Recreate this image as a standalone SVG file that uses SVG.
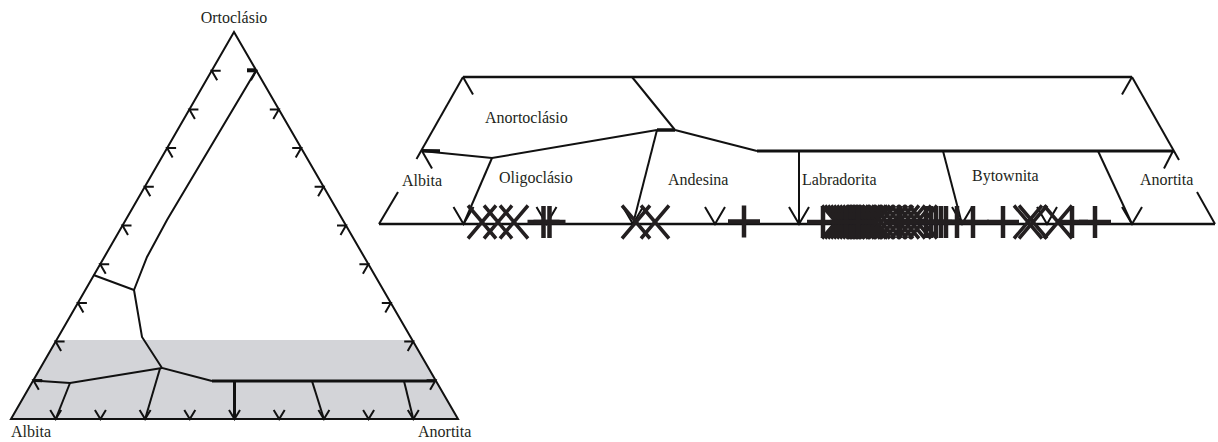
<svg xmlns="http://www.w3.org/2000/svg" width="1218" height="442" viewBox="0 0 1218 442">
<style>
.ln{fill:none;stroke:#111;stroke-width:2;stroke-linecap:butt;stroke-linejoin:miter}
.bd{fill:none;stroke:#111;stroke-width:3}
.hd{fill:none;stroke:#111;stroke-width:2}
.lbl{font-family:"Liberation Serif","Times New Roman",serif;font-size:16px;fill:#231f20}
.mx{fill:none;stroke:#231f20;stroke-width:3.5}
.mp{fill:none;stroke:#231f20;stroke-width:4.5}
</style>
<defs>
<path id="tl" class="hd" d="M9,0 L0,0 L5.5,9.5"/>
<path id="tr" class="hd" d="M-9,0 L0,0 L-5.5,9.5"/>
<path id="vs" class="hd" d="M-5.5,-9 L0,0 L5.5,-9"/>
<path id="vb" class="hd" d="M-10,-17 L0,0 L10,-17"/>
<path id="mX" class="mx" d="M-14,-16.5 L14,16.5 M-14,16.5 L14,-16.5"/>
<path id="mP" class="mp" d="M-16,0 H16 M0,-16 V16"/>
</defs>

<g id="ternary">
<polygon points="56.5,340 412.3,340 458,419 11,419" fill="#d3d4d8"/>
<polygon class="ln" points="11,419 234,32 458,419"/>
</g>

<g id="ternary-ticks">
<use href="#tl" x="33.3" y="380.3"/>
<use href="#tl" x="55.6" y="341.6"/>
<use href="#tl" x="77.9" y="302.9"/>
<use href="#tl" x="100.2" y="264.2"/>
<use href="#tl" x="122.5" y="225.5"/>
<use href="#tl" x="144.8" y="186.8"/>
<use href="#tl" x="167.1" y="148.1"/>
<use href="#tl" x="189.4" y="109.4"/>
<use href="#tl" x="211.7" y="70.7"/>
<use href="#tr" x="256.4" y="70.7"/>
<use href="#tr" x="278.8" y="109.4"/>
<use href="#tr" x="301.2" y="148.1"/>
<use href="#tr" x="323.6" y="186.8"/>
<use href="#tr" x="346" y="225.5"/>
<use href="#tr" x="368.4" y="264.2"/>
<use href="#tr" x="390.8" y="302.9"/>
<use href="#tr" x="413.2" y="341.6"/>
<use href="#tr" x="435.6" y="380.3"/>
<use href="#vs" x="55.7" y="419"/>
<use href="#vs" x="100.4" y="419"/>
<use href="#vs" x="145.1" y="419"/>
<use href="#vs" x="189.8" y="419"/>
<use href="#vs" x="234.5" y="419"/>
<use href="#vs" x="279.2" y="419"/>
<use href="#vs" x="323.9" y="419"/>
<use href="#vs" x="368.6" y="419"/>
<use href="#vs" x="413.3" y="419"/>
</g>

<g id="ternary-connectors">
<polyline class="ln" points="256,70.5 167,220 147,257 134,290 142,337 162,368 212,381"/>
<line class="bd" x1="212" y1="381" x2="435" y2="381"/>
<line class="bd" x1="247" y1="70.3" x2="256" y2="70.3" style="stroke-width:4"/>
<line class="ln" x1="134" y1="290" x2="93.5" y2="275"/>
<polyline class="ln" points="162,368 70,383 33.3,380.5"/>
<line class="bd" x1="33.3" y1="380.5" x2="42" y2="380.8"/>
<line class="ln" x1="70" y1="383" x2="55.7" y2="419"/>
<line class="ln" x1="160" y1="368.5" x2="145.1" y2="419"/>
<line class="bd" x1="234.5" y1="381" x2="234.5" y2="419"/>
<line class="ln" x1="312" y1="381" x2="323.9" y2="419"/>
<line class="ln" x1="404" y1="381" x2="413.3" y2="419"/>
</g>

<g id="ternary-labels">
<text class="lbl" x="234" y="23" text-anchor="middle">Ortoclásio</text>
<text class="lbl" x="11" y="437">Albita</text>
<text class="lbl" x="418" y="437">Anortita</text>
</g>

<g id="plag-frame">
<line class="bd" x1="463" y1="77" x2="1132" y2="77" style="stroke-width:2.5"/>
<line class="bd" x1="379" y1="224" x2="1215" y2="224" style="stroke-width:2.5"/>
<line class="ln" x1="463" y1="77" x2="416.5" y2="159"/>
<line class="ln" x1="398" y1="192" x2="379" y2="224"/>
<line class="ln" x1="463" y1="77" x2="473" y2="94.5"/>
<line class="ln" x1="1132" y1="77" x2="1179" y2="160"/>
<line class="ln" x1="1197" y1="192" x2="1215" y2="224"/>
<line class="ln" x1="1132" y1="77" x2="1122" y2="94.5"/>
</g>

<g id="plag-connectors">
<polyline class="ln" points="422,151 492,158 657,130"/>
<line class="bd" x1="422" y1="150.8" x2="440" y2="151" style="stroke-width:3.5"/>
<line class="ln" x1="422" y1="151" x2="432" y2="168.5"/>
<line class="bd" x1="657" y1="130" x2="675" y2="130" style="stroke-width:3.5"/>
<line class="ln" x1="675" y1="130" x2="632" y2="77"/>
<line class="ln" x1="675" y1="130" x2="757" y2="151"/>
<line class="bd" x1="757" y1="151" x2="1174" y2="151"/>
<line class="ln" x1="1173" y1="151" x2="1164" y2="168.5"/>
<line class="ln" x1="492" y1="158" x2="463.5" y2="224"/>
<line class="ln" x1="657" y1="130" x2="633" y2="224"/>
<line class="ln" x1="799" y1="151" x2="799" y2="224"/>
<line class="ln" x1="943" y1="151" x2="962" y2="224"/>
<line class="ln" x1="1098" y1="151" x2="1132" y2="224"/>
<use href="#vb" x="463.5" y="224"/>
<use href="#vb" x="546.5" y="224"/>
<use href="#vb" x="633" y="224"/>
<use href="#vb" x="715" y="224"/>
<use href="#vb" x="799" y="224"/>
<use href="#vb" x="881" y="224"/>
<use href="#vb" x="962" y="224"/>
<use href="#vb" x="1047" y="224"/>
<use href="#vb" x="1132" y="224"/>
</g>

<g id="plag-labels">
<text class="lbl" x="485" y="123">Anortoclásio</text>
<text class="lbl" x="402" y="186">Albita</text>
<text class="lbl" x="499" y="183">Oligoclásio</text>
<text class="lbl" x="668" y="185">Andesina</text>
<text class="lbl" x="802" y="185">Labradorita</text>
<text class="lbl" x="972" y="181">Bytownita</text>
<text class="lbl" x="1140" y="185">Anortita</text>
</g>

<g id="samples">
<use href="#mX" x="482" y="222"/>
<use href="#mX" x="498" y="222"/>
<use href="#mX" x="514" y="222"/>
<use href="#mP" x="543.5" y="222"/>
<use href="#mP" x="549.5" y="222"/>
<use href="#mX" x="636" y="222"/>
<use href="#mX" x="655" y="222"/>
<use href="#mP" x="744" y="221.5"/>
<use href="#mP" x="823" y="222"/>
<use href="#mX" x="836" y="222"/>
<use href="#mX" x="839" y="222"/>
<use href="#mX" x="842" y="222"/>
<use href="#mX" x="845" y="222"/>
<use href="#mX" x="848" y="222"/>
<use href="#mX" x="851" y="222"/>
<use href="#mX" x="854" y="222"/>
<use href="#mX" x="857" y="222"/>
<use href="#mX" x="860" y="222"/>
<use href="#mX" x="863" y="222"/>
<use href="#mX" x="866" y="222"/>
<use href="#mX" x="869" y="222"/>
<use href="#mX" x="872" y="222"/>
<use href="#mX" x="876" y="222"/>
<use href="#mP" x="846" y="222"/>
<use href="#mP" x="858" y="222"/>
<use href="#mX" x="881" y="222"/>
<use href="#mX" x="887" y="222"/>
<use href="#mX" x="893" y="222"/>
<use href="#mX" x="899" y="222"/>
<use href="#mX" x="905" y="222"/>
<use href="#mX" x="911" y="222"/>
<use href="#mX" x="917" y="222"/>
<use href="#mX" x="923" y="222"/>
<use href="#mP" x="900" y="222"/>
<use href="#mP" x="926" y="222"/>
<use href="#mP" x="931" y="222"/>
<use href="#mP" x="936" y="222"/>
<use href="#mP" x="941" y="222"/>
<use href="#mP" x="946" y="222"/>
<use href="#mP" x="957" y="222"/>
<use href="#mP" x="973" y="222"/>
<use href="#mP" x="1003" y="222"/>
<use href="#mX" x="1028" y="222"/>
<use href="#mX" x="1033" y="222"/>
<use href="#mX" x="1058" y="222"/>
<use href="#mP" x="1072" y="222"/>
<use href="#mP" x="1095" y="222"/>
</g>
</svg>
